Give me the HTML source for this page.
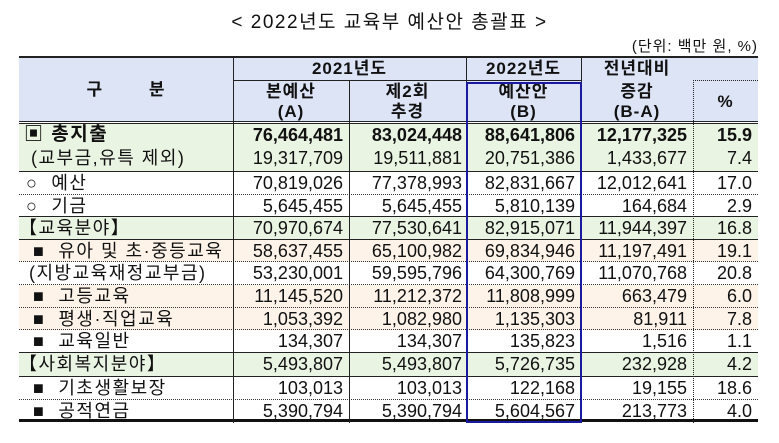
<!DOCTYPE html>
<html><head><meta charset="utf-8"><style>
body{margin:0;width:779px;height:443px;background:#fff;position:relative;overflow:hidden;font-family:"Liberation Sans","Noto Sans CJK KR",sans-serif;color:#111}
.a{position:absolute;white-space:nowrap}
.r{position:absolute;left:19px;width:739px;height:23px}
.c{position:absolute;top:0;height:100%;font-size:18px;line-height:23px;text-align:right}
.l{position:absolute;top:0;left:0;font-size:18px;line-height:22px;letter-spacing:1.5px;white-space:nowrap}
.h{position:absolute;font-size:17px;font-weight:bold;text-align:center;line-height:20px;letter-spacing:1px}
.v{position:absolute;width:1px;background:#222}
</style></head><body>
<div class="a" style="left:0;width:779px;text-align:center;top:7px;font-size:19px;letter-spacing:1.5px">&lt; 2022년도 교육부 예산안 총괄표 &gt;</div>
<div class="a" style="right:21px;top:35px;font-size:15px;letter-spacing:1px">(단위: 백만 원, %)</div>
<div class="a" style="left:19px;top:57px;width:739px;height:65px;background:#dde4f6"></div>
<div class="a" style="left:19px;top:56px;width:739px;height:2px;background:#222"></div>
<div class="a" style="left:233px;top:80px;width:348px;height:1px;background:#222"></div>
<div class="a" style="left:693px;top:80px;width:65px;border-top:1px dotted #222"></div>
<div class="a" style="left:19px;top:121px;width:739px;height:1px;background:#222"></div>
<div class="a" style="left:19px;top:123px;width:739px;height:1px;background:#222"></div>
<div class="h" style="left:19px;width:214px;top:80px">구&nbsp;&nbsp;&nbsp;&nbsp;&nbsp;&nbsp;&nbsp;&nbsp;분</div>
<div class="h" style="left:233px;width:233px;top:59px">2021년도</div>
<div class="h" style="left:466px;width:115px;top:59px">2022년도</div>
<div class="h" style="left:581px;width:112px;top:59px">전년대비</div>
<div class="h" style="left:233px;width:116px;top:82px">본예산<br>(A)</div>
<div class="h" style="left:349px;width:117px;top:82px">제2회<br>추경</div>
<div class="h" style="left:466px;width:115px;top:82px">예산안<br>(B)</div>
<div class="h" style="left:581px;width:112px;top:82px">증감<br>(B-A)</div>
<div class="h" style="left:693px;width:65px;top:92px">%</div>
<div id="rows"></div>
<script>
var d=[
["▣ 총지출","76,464,481","83,024,448","88,641,806","12,177,325","15.9","#eaf4e2",1,"n",5],
["(교부금,유특 제외)","19,317,709","19,511,881","20,751,386","1,433,677","7.4","#eaf4e2",0,"s",12],
["○&nbsp;&nbsp;예산","70,819,026","77,378,993","82,831,667","12,012,641","17.0","#fff",0,"d",7],
["○&nbsp;&nbsp;기금","5,645,455","5,645,455","5,810,139","164,684","2.9","#fff",0,"s",7],
["【교육분야】","70,970,674","77,530,641","82,915,071","11,944,397","16.8","#eaf4e2",0,"s",0],
["■&nbsp;&nbsp;유아 및 초·중등교육","58,637,455","65,100,982","69,834,946","11,197,491","19.1","#fdf3e8",0,"d",14],
["(지방교육재정교부금)","53,230,001","59,595,796","64,300,769","11,070,768","20.8","#fff",0,"d",10],
["■&nbsp;&nbsp;고등교육","11,145,520","11,212,372","11,808,999","663,479","6.0","#fdf3e8",0,"d",14],
["■&nbsp;&nbsp;평생·직업교육","1,053,392","1,082,980","1,135,303","81,911","7.8","#fdf3e8",0,"d",14],
["■&nbsp;&nbsp;교육일반","134,307","134,307","135,823","1,516","1.1","#fff",0,"s",14],
["【사회복지분야】","5,493,807","5,493,807","5,726,735","232,928","4.2","#eaf4e2",0,"s",0],
["■&nbsp;&nbsp;기초생활보장","103,013","103,013","122,168","19,155","18.6","#fff",0,"d",14],
["■&nbsp;&nbsp;공적연금","5,390,794","5,390,794","5,604,567","213,773","4.0","#fff",0,"t",14]];
var ys=[124,147,172,195,217,240,262,285,308,330,353,377,400,422];
var cols=[[214,116],[330,119],[447,115],[562,112],[674,65]];
var h="";
d.forEach(function(r,i){var y=ys[i],hh=ys[i+1]-y;
var b=r[8]=="s"?"border-bottom:1px solid #222;":r[8]=="d"?"border-bottom:1px dotted #333;":r[8]=="t"?"border-bottom:3px solid #111;":"";
h+='<div class="r" style="top:'+y+'px;height:'+hh+'px;background:'+r[6]+';box-sizing:border-box;'+b+(r[7]?'font-weight:bold;':'')+'">';
h+='<div class="l" style="left:'+r[9]+'px;'+(r[7]?'font-size:19px;':'')+'">'+r[0]+'</div>';
for(var k=0;k<5;k++){h+='<div class="c" style="left:'+cols[k][0]+'px;width:'+(cols[k][1]-6)+'px;">'+r[k+1]+'</div>';}
h+='</div>';});
[[233,57],[349,80],[466,57],[581,57]].forEach(function(v){h+='<div class="v" style="left:'+v[0]+'px;top:'+v[1]+'px;height:'+(423-v[1])+'px"></div>';});
h+='<div class="a" style="left:693px;top:80px;height:343px;border-left:1px dotted #222"></div>';
h+='<div class="a" style="left:466px;top:82px;width:112px;height:337px;border:2px solid #1a1aa0"></div>';
document.getElementById("rows").innerHTML=h;
</script>
</body></html>
